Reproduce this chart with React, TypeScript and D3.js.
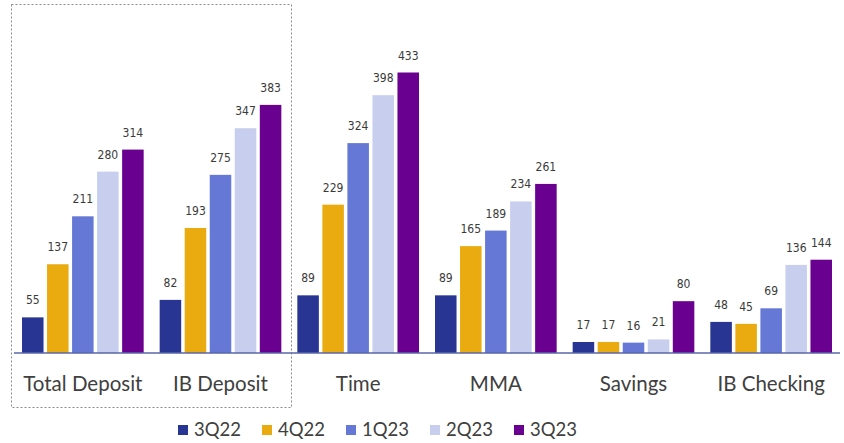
import React from "react";
import * as d3 from "d3";

const categories = ["Total Deposit", "IB Deposit", "Time", "MMA", "Savings", "IB Checking"];
const seriesNames = ["3Q22", "4Q22", "1Q23", "2Q23", "3Q23"];
const s3Q22 = [55, 82, 89, 89, 17, 48];
const s4Q22 = [137, 193, 229, 165, 17, 45];
const s1Q23 = [211, 275, 324, 189, 16, 69];
const s2Q23 = [280, 347, 398, 234, 21, 136];
const s3Q23 = [314, 383, 433, 261, 80, 144];
const seriesValues = [s3Q22, s4Q22, s1Q23, s2Q23, s3Q23];
const colors = ["#283593", "#E9AB0F", "#6678D6", "#C8CFEE", "#6A008F"];

const W = 844;
const H = 443;

export default function App() {
  const x0 = d3.scaleBand<string>().domain(categories).range([14, 840]).paddingInner(0).paddingOuter(0);
  const bw0 = x0.bandwidth();
  const x1 = d3.scaleBand<string>().domain(seriesNames).range([8, bw0 - 8]).paddingInner(0.14).paddingOuter(0);
  const y = d3.scaleLinear().domain([0, 433]).range([353, 72.5]);
  const base = y(0);

  const legendX = d3.scaleBand<string>().domain(seriesNames).range([178, 178 + 84 * 5]);

  return (
    <svg width={W} height={H} style={{ position: "absolute", left: 0, top: 0 }}>
      <rect x={0} y={0} width={W} height={H} fill="#ffffff" />
      <rect x={11.5} y={4.5} width={280} height={403} fill="none" stroke="#8a8a8a" strokeWidth={1} strokeDasharray="2,2" />
      {categories.map((c, ci) => (
        <g key={c} transform={`translate(${x0(c)},0)`}>
          {seriesNames.map((s, si) => {
            const v = seriesValues[si][ci];
            const bx = x1(s)!;
            return (
              <g key={s}>
                <rect x={bx} y={y(v)} width={x1.bandwidth()} height={base - y(v)} fill={colors[si]} />
                <text
                  x={bx + x1.bandwidth() / 2}
                  y={y(v) - 13}
                  textAnchor="middle"
                  fontFamily="'Liberation Sans Narrow', 'DejaVu Sans Condensed', sans-serif"
                  fontSize={12}
                  fill="#3a3a3a"
                >
                  {v}
                </text>
              </g>
            );
          })}
          <text
            x={bw0 / 2}
            y={391}
            textAnchor="middle"
            fontFamily="Lato, 'Open Sans', sans-serif"
            fontSize={20.5}
            fill="#404040"
          >
            {c}
          </text>
        </g>
      ))}
      <line x1={14} x2={840} y1={base} y2={base} stroke="#5866a8" strokeWidth={1.5} />
      {seriesNames.map((s, si) => (
        <g key={s} transform={`translate(${legendX(s)},0)`}>
          <rect x={0} y={425} width={10} height={10} fill={colors[si]} />
          <text x={16} y={436} fontFamily="Lato, 'Open Sans', sans-serif" fontSize={18.5} fill="#404040">
            {s}
          </text>
        </g>
      ))}
    </svg>
  );
}
